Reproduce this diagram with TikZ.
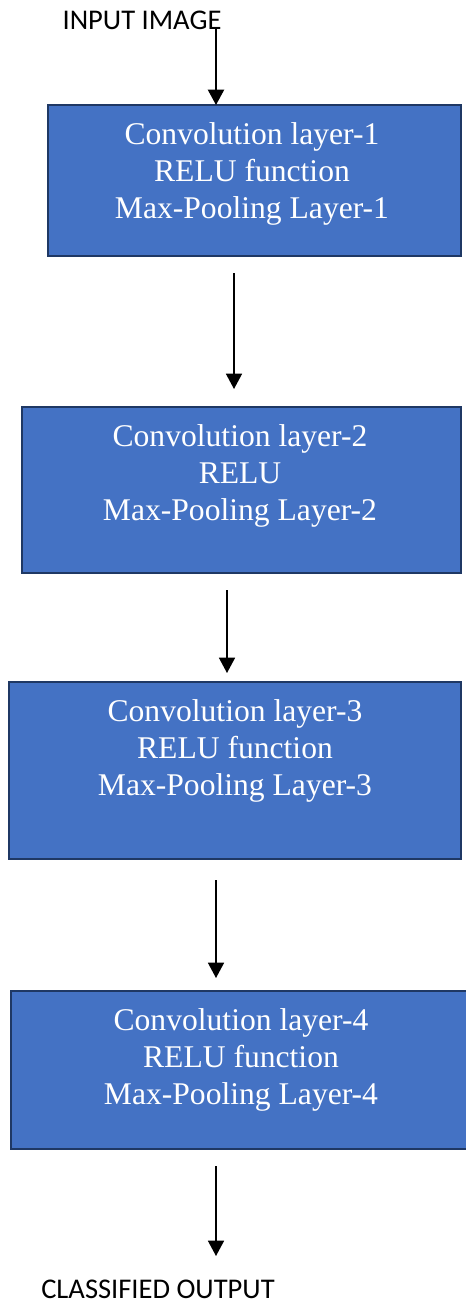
\documentclass[tikz,border=0pt]{standalone}
\usepackage{fontspec}
\setmainfont{Liberation Serif}
\newfontfamily\calib{Carlito}
\usetikzlibrary{arrows.meta,fit}
\definecolor{boxfill}{HTML}{4472C4}
\definecolor{boxline}{HTML}{1F3864}
\tikzset{
  box/.style={draw=boxline, line width=1.9pt, fill=boxfill, inner sep=0pt, rectangle},
  boxtext/.style={text=white, align=center, font=\fontsize{23.7pt}{27.5pt}\selectfont, inner sep=0pt},
  lbl/.style={font=\calib\fontsize{21.4pt}{24pt}\selectfont, inner sep=0pt, anchor=base},
  arr/.style={line width=1.2pt, -{Triangle[width=12pt,length=11.5pt]}},
}
\begin{document}
\begin{tikzpicture}[x=0.75pt,y=-0.75pt]
\useasboundingbox (0,0) rectangle (466,1303);
% labels
\node[lbl] (in) at (142,29) {INPUT IMAGE};
\node[lbl] (out) at (158,1298) {CLASSIFIED OUTPUT};
% boxes
\node[box, fit={(48,105) (461,256)}] (b1) {};
\node[box, fit={(22,407) (461,573)}] (b2) {};
\node[box, fit={(9,682) (461,859)}] (b3) {};
\node[box, fit={(11,991) (470,1149)}] (b4) {};
% texts
\node[boxtext] (t1) at (252,174) {Convolution layer-1\\RELU function\\Max-Pooling Layer-1};
\node[boxtext] (t2) at (240,476) {Convolution layer-2\\RELU\\Max-Pooling Layer-2};
\node[boxtext] (t3) at (235,751) {Convolution layer-3\\RELU function\\Max-Pooling Layer-3};
\node[boxtext] (t4) at (241,1060) {Convolution layer-4\\RELU function\\Max-Pooling Layer-4};
% arrow end points
\coordinate (a1s) at (216,28);
\coordinate (a1e) at (216,105);
\coordinate (a2s) at (234,273);
\coordinate (a2e) at (234,389);
\coordinate (a3s) at (227,590);
\coordinate (a3e) at (227,673);
\coordinate (a4s) at (216,880);
\coordinate (a4e) at (216,978);
\coordinate (a5s) at (216,1166);
\coordinate (a5e) at (216,1256);
\draw[arr, line width=1.7pt] (a1s) -- (a1e);
\draw[arr] (a2s) -- (a2e);
\draw[arr] (a3s) -- (a3e);
\draw[arr] (a4s) -- (a4e);
\draw[arr] (a5s) -- (a5e);
\end{tikzpicture}
\end{document}
